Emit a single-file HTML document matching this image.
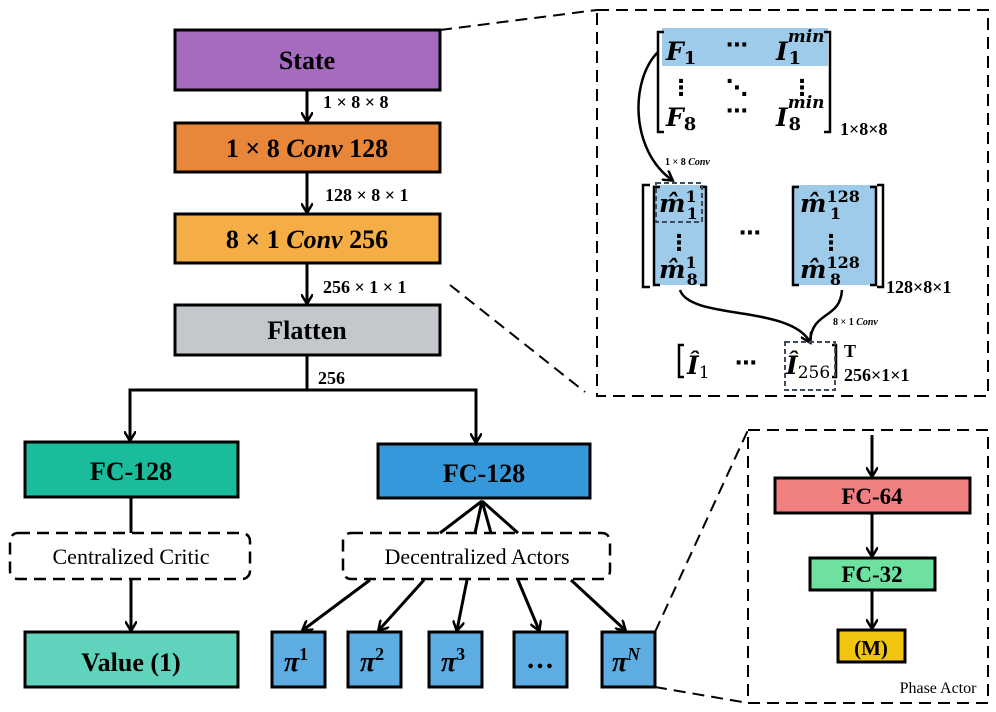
<!DOCTYPE html>
<html><head><meta charset="utf-8"><style>
body{margin:0;background:#fff}
svg{display:block}
.b{font-family:"Liberation Serif",serif;font-weight:bold}
.m{font-family:"DejaVu Serif","Liberation Serif",serif;font-weight:bold}
</style></head><body>
<svg width="996" height="712" viewBox="0 0 996 712" xmlns="http://www.w3.org/2000/svg">
<defs>
<marker id="a" markerWidth="12" markerHeight="12" refX="9" refY="6" orient="auto" markerUnits="userSpaceOnUse" viewBox="0 0 12 12"><path d="M0,0 L10,6 L0,12" fill="none" stroke="#000" stroke-width="2.5"/></marker>
</defs>
<g stroke="#000" stroke-width="3">
<rect x="175" y="30" width="265" height="60" fill="#a66bbf"/>
<rect x="175" y="123" width="265" height="49" fill="#e8873a"/>
<rect x="175" y="214" width="265" height="49" fill="#f5ae45"/>
<rect x="175" y="305" width="265" height="50" fill="#c4c8cc"/>
<rect x="25" y="442" width="213" height="55" fill="#1abc9c"/>
<rect x="378" y="444" width="212" height="54" fill="#3498db"/>
<rect x="25" y="632" width="213" height="55" fill="#5fd3bb"/>
<rect x="272" y="632" width="53" height="55" fill="#5dade2"/>
<rect x="348" y="632" width="53" height="55" fill="#5dade2"/>
<rect x="429" y="632" width="53" height="55" fill="#5dade2"/>
<rect x="514" y="632" width="53" height="55" fill="#5dade2"/>
<rect x="602" y="632" width="53" height="55" fill="#5dade2"/>
<rect x="775" y="478" width="195" height="35" fill="#f08080"/>
<rect x="810" y="558" width="125" height="32" fill="#6ee0a0"/>
<rect x="838" y="630" width="67" height="32" fill="#f1c40f"/>
</g>
<g stroke="#000" stroke-width="3" fill="none">
<line x1="307" y1="90" x2="307" y2="121" marker-end="url(#a)"/>
<line x1="307" y1="172" x2="307" y2="212" marker-end="url(#a)"/>
<line x1="307" y1="263" x2="307" y2="303" marker-end="url(#a)"/>
<polyline points="307,355 307,390 130,390 130,440" marker-end="url(#a)"/>
<polyline points="307,390 476,390 476,442" marker-end="url(#a)"/>
<line x1="131" y1="497" x2="131" y2="533"/>
<line x1="131" y1="579" x2="131" y2="630" marker-end="url(#a)"/>
<line x1="482" y1="501" x2="440" y2="533"/><line x1="482" y1="501" x2="475" y2="533"/><line x1="482" y1="501" x2="491" y2="533"/><line x1="482" y1="501" x2="518" y2="533"/>
<line x1="370" y1="580" x2="303" y2="630" marker-end="url(#a)"/>
<line x1="424" y1="580" x2="379" y2="630" marker-end="url(#a)"/>
<line x1="467" y1="580" x2="457" y2="630" marker-end="url(#a)"/>
<line x1="518" y1="580" x2="539" y2="630" marker-end="url(#a)"/>
<line x1="571" y1="580" x2="625" y2="630" marker-end="url(#a)"/>
<line x1="872" y1="435" x2="872" y2="476" marker-end="url(#a)"/>
<line x1="872" y1="513" x2="872" y2="556" marker-end="url(#a)"/>
<line x1="872" y1="590" x2="872" y2="628" marker-end="url(#a)"/>
</g>
<g stroke="#000" stroke-width="2.5" fill="none" stroke-dasharray="12,7">
<rect x="10" y="533" width="240" height="46" rx="8"/>
<rect x="343" y="533" width="267" height="46" rx="8"/>
</g>
<g stroke="#000" stroke-width="2" fill="none" stroke-dasharray="12,7">
<rect x="597" y="10" width="391" height="386"/>
<rect x="748" y="430" width="240" height="273"/>
<line x1="440" y1="30" x2="597" y2="10"/>
<line x1="450" y1="285" x2="585" y2="392"/>
<line x1="655" y1="632" x2="748" y2="430"/>
<line x1="655" y1="687" x2="748" y2="703"/>
</g>
<g class="b" font-size="26" text-anchor="middle">
<text x="307" y="69">State</text>
<text x="307" y="157">1 × 8 <tspan font-style="italic">Conv</tspan> 128</text>
<text x="307" y="248">8 × 1 <tspan font-style="italic">Conv</tspan> 256</text>
<text x="307" y="339">Flatten</text>
<text x="131" y="480">FC-128</text>
<text x="484" y="482">FC-128</text>
<text x="131" y="671">Value (1)</text>
<text x="872" y="504" font-size="23">FC-64</text>
<text x="872" y="582" font-size="23">FC-32</text>
<text x="871" y="655" font-size="21">(M)</text>
</g>
<g class="b" font-size="18">
<text x="323" y="108">1 × 8 × 8</text>
<text x="325" y="201">128 × 8 × 1</text>
<text x="323" y="293">256 × 1 × 1</text>
<text x="318" y="384">256</text>
</g>
<g font-family="Liberation Serif,serif" font-size="22" text-anchor="middle">
<text x="131" y="564">Centralized Critic</text>
<text x="477" y="564">Decentralized Actors</text>
<text x="938" y="693" font-size="16">Phase Actor</text>
</g>
<g class="b" font-size="28" font-style="italic" text-anchor="middle">
<text x="296" y="671">π<tspan font-size="18" dy="-11" font-style="normal">1</tspan></text>
<text x="372" y="671">π<tspan font-size="18" dy="-11" font-style="normal">2</tspan></text>
<text x="453" y="671">π<tspan font-size="18" dy="-11" font-style="normal">3</tspan></text>
<text x="540" y="668" font-style="normal">…</text>
<text x="626" y="671">π<tspan font-size="18" dy="-11">N</tspan></text>
</g>
<rect x="662" y="28" width="166" height="38" fill="#9ecbe9"/>
<rect x="653" y="185" width="53" height="100" fill="#9ecbe9"/>
<rect x="793" y="185" width="83" height="100" fill="#9ecbe9"/>
<g stroke="#000" stroke-width="2.5" fill="none">
<polyline points="664,32 658,32 658,132 664,132"/>
<polyline points="824,32 830,32 830,132 824,132"/>
<polyline points="650,185 643,185 643,287 650,287"/>
<polyline points="660,187 654,187 654,285 660,285"/>
<polyline points="700,187 706,187 706,285 700,285"/>
<polyline points="799,187 793,187 793,285 799,285"/>
<polyline points="870,187 876,187 876,285 870,285"/>
<polyline points="877,185 883,185 883,287 877,287"/>
<path d="M658,52 C630,80 630,150 672,180" marker-end="url(#a)"/>
<path d="M680,290 C690,320 790,305 810,342" marker-end="url(#a)"/>
<path d="M842,290 C840,320 812,310 810,342"/>
<polyline points="684,345 679,345 679,377 684,377"/>
<polyline points="832,345 836,345 836,377 832,377"/>
</g>
<g stroke="#3d4b5c" stroke-width="2" fill="none" stroke-dasharray="5,3">
<rect x="656" y="183" width="46" height="39"/>
<rect x="785" y="342" width="50" height="48"/>
</g>
<g class="m" font-size="25" font-style="italic">
<text x="666" y="60">F<tspan font-size="18" font-style="normal" dy="4">1</tspan></text>
<text x="776" y="60">I<tspan font-size="17" dy="-18">min</tspan><tspan font-size="18" font-style="normal" dx="-36" dy="22">1</tspan></text>
<text x="666" y="126">F<tspan font-size="18" font-style="normal" dy="4">8</tspan></text>
<text x="776" y="126">I<tspan font-size="17" dy="-18">min</tspan><tspan font-size="18" font-style="normal" dx="-36" dy="22">8</tspan></text>
<text x="659" y="212">m̂<tspan font-size="16" font-style="normal" dy="-10">1</tspan><tspan font-size="16" font-style="normal" dx="-10" dy="17">1</tspan></text>
<text x="659" y="278">m̂<tspan font-size="16" font-style="normal" dy="-10">1</tspan><tspan font-size="16" font-style="normal" dx="-10" dy="17">8</tspan></text>
<text x="800" y="212">m̂<tspan font-size="16" font-style="normal" dy="-10">128</tspan><tspan font-size="16" font-style="normal" dx="-30" dy="17">1</tspan></text>
<text x="800" y="278">m̂<tspan font-size="16" font-style="normal" dy="-10">128</tspan><tspan font-size="16" font-style="normal" dx="-30" dy="17">8</tspan></text>
<text x="687" y="374">Î<tspan font-size="17" font-style="normal" font-weight="normal" dy="4">1</tspan></text>
<text x="786" y="374">Î<tspan font-size="17" font-style="normal" font-weight="normal" dy="4">256</tspan></text>
</g>
<g font-family="DejaVu Sans,sans-serif" font-size="22" font-weight="bold" text-anchor="middle">
<text x="737" y="52">⋯</text><text x="737" y="118">⋯</text>
<text x="681" y="95">⋮</text><text x="737" y="95">⋱</text><text x="802" y="95">⋮</text>
<text x="679" y="250">⋮</text><text x="831" y="250">⋮</text>
<text x="750" y="240">⋯</text><text x="746" y="370">⋯</text>
</g>
<g class="b" font-size="18">
<text x="840" y="135">1×8×8</text>
<text x="886" y="293">128×8×1</text>
<text x="844" y="357">T</text>
<text x="844" y="381">256×1×1</text>
<text x="665" y="165" font-size="10">1 × 8 <tspan font-style="italic">Conv</tspan></text>
<text x="833" y="325" font-size="10">8 × 1 <tspan font-style="italic">Conv</tspan></text>
</g>
</svg>
</body></html>
